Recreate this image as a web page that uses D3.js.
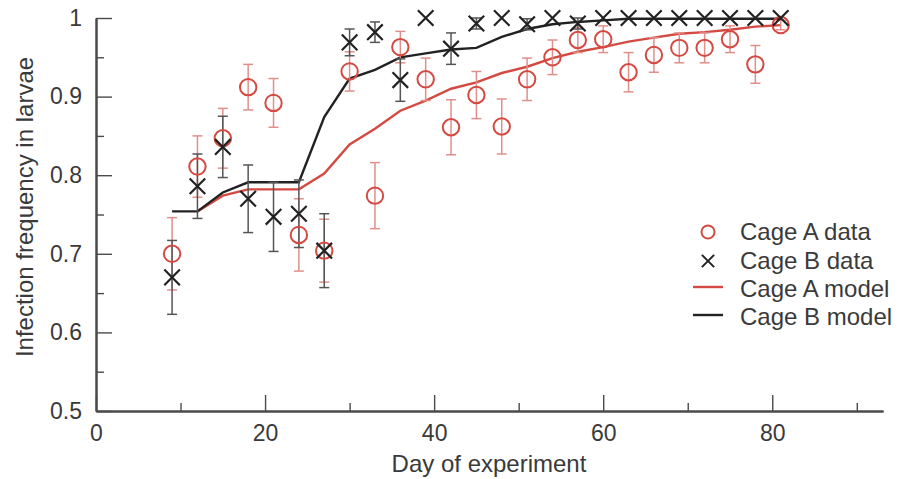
<!DOCTYPE html>
<html>
<head>
<meta charset="utf-8">
<script src="https://d3js.org/d3.v7.min.js"></script>
<style>
  body { margin: 0; background: #fff; }
  text { font-family: "Liberation Sans", Arial, Helvetica, sans-serif; fill: #3a3a3a; }
</style>
</head>
<body>
<script>
// days the larvae were sampled
var days = [9, 12, 15, 18, 21, 24, 27, 30, 33, 36, 39, 42, 45, 48, 51, 54, 57, 60, 63, 66, 69, 72, 75, 78, 81];

// cage A observed frequency and error
var cageA    = [0.700, 0.811, 0.847, 0.912, 0.892, 0.724, 0.704, 0.932, 0.774, 0.963, 0.922, 0.861, 0.902,
                0.862, 0.922, 0.950, 0.972, 0.973, 0.931, 0.953, 0.962, 0.962, 0.973, 0.941, 0.991];
var cageAErr = [0.046, 0.039, 0.038, 0.029, 0.031, 0.046, 0.040, 0.025, 0.042, 0.020, 0.027, 0.035, 0.030,
                0.035, 0.027, 0.022, 0.016, 0.017, 0.025, 0.022, 0.019, 0.019, 0.017, 0.024, 0.006];

// cage B observed frequency and error
var cageB    = [0.670, 0.786, 0.836, 0.770, 0.747, 0.751, 0.704, 0.969, 0.982, 0.921, 1.000, 0.961, 0.993,
                1.000, 0.992, 1.000, 0.993, 1.000, 1.000, 1.000, 1.000, 1.000, 1.000, 1.000, 1.000];
var cageBErr = [0.047, 0.041, 0.039, 0.043, 0.044, 0.043, 0.047, 0.017, 0.013, 0.027, 0, 0.020, 0.007,
                0, 0.007, 0, 0.007, 0, 0, 0, 0, 0, 0, 0, 0];

// model curves (cage A model starts at day 12)
var modelA = [null, 0.754, 0.774, 0.782, 0.782, 0.782, 0.802, 0.839, 0.859, 0.882, 0.895, 0.910, 0.918,
              0.930, 0.938, 0.949, 0.957, 0.963, 0.970, 0.975, 0.980, 0.982, 0.985, 0.989, 0.991];
var modelB = [0.754, 0.754, 0.778, 0.791, 0.791, 0.791, 0.874, 0.923, 0.934, 0.950, 0.955, 0.960, 0.962,
              0.976, 0.986, 0.992, 0.995, 0.997, 0.999, 0.999, 0.999, 0.999, 0.999, 0.999, 0.999];

var xMajor = [0, 20, 40, 60, 80];
var xMinor = [10, 30, 50, 70, 90];
var yMajor = [0.5, 0.6, 0.7, 0.8, 0.9, 1];
var yMinor = [0.55, 0.65, 0.75, 0.85, 0.95];

var legendLabels = ["Cage A data", "Cage B data", "Cage A model", "Cage B model"];

var red = "#d44a42", redBar = "#e0908a", black = "#222", blackBar = "#555", axisCol = "#4a4a4a";

var svg = d3.select("body").append("svg")
    .attr("width", 898)
    .attr("height", 479);

var x = d3.scaleLinear().domain([0, 93.1]).range([96, 883]);
var y = d3.scaleLinear().domain([0.5, 1]).range([411, 18]);

// axes: minor ticks first, then major with labels (ticks point inward)
svg.append("g").attr("transform", "translate(0,411)")
    .call(d3.axisBottom(x).tickValues(xMinor).tickSize(-8).tickSizeOuter(0).tickFormat(""));
svg.append("g").attr("transform", "translate(0,411)")
    .call(d3.axisBottom(x).tickValues(xMajor).tickSize(-16).tickSizeOuter(0).tickPadding(14).tickFormat(d3.format("d")));
svg.append("g").attr("transform", "translate(96,0)")
    .call(d3.axisLeft(y).tickValues(yMinor).tickSize(-8).tickSizeOuter(0).tickFormat(""));
svg.append("g").attr("transform", "translate(96,0)")
    .call(d3.axisLeft(y).tickValues(yMajor).tickSize(-16).tickSizeOuter(0).tickPadding(14)
        .tickFormat(function(d){ return d === 1 ? "1" : d3.format(".1f")(d); }));

svg.selectAll(".domain").attr("stroke", axisCol).attr("stroke-width", 2);
svg.selectAll(".tick line").attr("stroke", axisCol).attr("stroke-width", 1.4);
svg.selectAll(".tick text").attr("font-size", "23px").attr("fill", "#3a3a3a")
    .attr("font-family", "'Liberation Sans', Arial, sans-serif");

// axis titles
svg.append("text")
    .attr("x", 489).attr("y", 472)
    .attr("text-anchor", "middle")
    .attr("font-size", "24px")
    .text("Day of experiment");
svg.append("text")
    .attr("transform", "translate(33,207) rotate(-90)")
    .attr("text-anchor", "middle")
    .attr("font-size", "24px")
    .text("Infection frequency in larvae");

var plot = svg.append("g");

// model lines
var lineA = d3.line().defined(function(d, i){ return modelA[i] !== null; })
    .x(function(d){ return x(d); }).y(function(d, i){ return y(modelA[i]); });
var lineB = d3.line()
    .x(function(d){ return x(d); }).y(function(d, i){ return y(modelB[i]); });

plot.append("path").attr("d", lineA(days))
    .attr("fill", "none").attr("stroke", red).attr("stroke-width", 2.4);
plot.append("path").attr("d", lineB(days))
    .attr("fill", "none").attr("stroke", black).attr("stroke-width", 2.4);

// error bars
function errorBars(vals, errs, col) {
    var g = plot.append("g").attr("stroke", col).attr("stroke-width", 1.5);
    days.forEach(function(d, i){
        if (!errs[i]) return;
        var cx = x(d), top = y(vals[i] + errs[i]), bot = y(vals[i] - errs[i]);
        g.append("line").attr("x1", cx).attr("x2", cx).attr("y1", top).attr("y2", bot);
        g.append("line").attr("x1", cx - 5).attr("x2", cx + 5).attr("y1", top).attr("y2", top);
        g.append("line").attr("x1", cx - 5).attr("x2", cx + 5).attr("y1", bot).attr("y2", bot);
    });
}
errorBars(cageA, cageAErr, redBar);
errorBars(cageB, cageBErr, blackBar);

// cage A circles
plot.selectAll(".ptA").data(days).enter().append("circle")
    .attr("class", "ptA")
    .attr("cx", function(d){ return x(d); })
    .attr("cy", function(d, i){ return y(cageA[i]); })
    .attr("r", 8.2)
    .attr("fill", "none")
    .attr("stroke", red)
    .attr("stroke-width", 2);

// cage B crosses
var cross = d3.symbol().type(d3.symbolX).size(160);
plot.selectAll(".ptB").data(days).enter().append("path")
    .attr("class", "ptB")
    .attr("transform", function(d, i){ return "translate(" + x(d) + "," + y(cageB[i]) + ")"; })
    .attr("d", cross)
    .attr("fill", "none")
    .attr("stroke", black)
    .attr("stroke-width", 2.2);

// legend
var legend = svg.append("g").attr("transform", "translate(708,0)");
var rows = [240, 269, 297, 325];
legend.append("circle").attr("cx", 0).attr("cy", 232).attr("r", 6.5)
    .attr("fill", "none").attr("stroke", red).attr("stroke-width", 2);
legend.append("path").attr("transform", "translate(0,261)").attr("d", d3.symbol().type(d3.symbolX).size(100))
    .attr("fill", "none").attr("stroke", black).attr("stroke-width", 2);
legend.append("line").attr("x1", -15).attr("x2", 15).attr("y1", 287).attr("y2", 287)
    .attr("stroke", red).attr("stroke-width", 2.4);
legend.append("line").attr("x1", -15).attr("x2", 15).attr("y1", 315).attr("y2", 315)
    .attr("stroke", black).attr("stroke-width", 2.4);
legend.selectAll(".lab").data(legendLabels).enter().append("text")
    .attr("class", "lab")
    .attr("x", 32)
    .attr("y", function(d, i){ return rows[i]; })
    .attr("font-size", "24px")
    .text(function(d){ return d; });
</script>
</body>
</html>
